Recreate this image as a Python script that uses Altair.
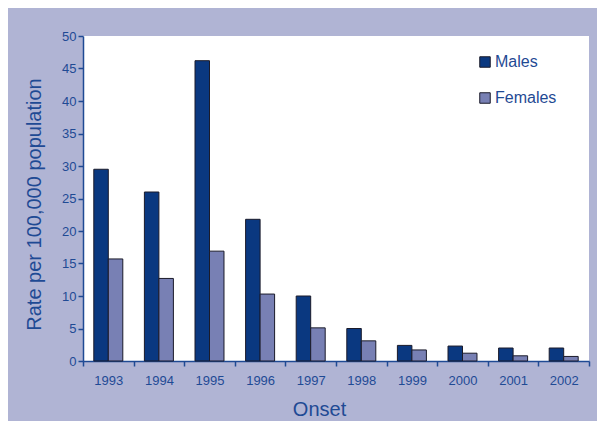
import altair as alt
import pandas as pd

years = ["1993", "1994", "1995", "1996", "1997", "1998", "1999", "2000", "2001", "2002"]
males = [29.5, 26.0, 46.2, 21.8, 10.0, 5.0, 2.4, 2.3, 2.0, 2.0]
females = [15.7, 12.7, 16.9, 10.3, 5.1, 3.1, 1.7, 1.2, 0.8, 0.7]
sexes = ["Males", "Females"]

rows = []
for i, y in enumerate(years):
    rows.append({"year": y, "sex": "Males", "rate": males[i]})
    rows.append({"year": y, "sex": "Females", "rate": females[i]})
df = pd.DataFrame(rows)

NAVY = "#1f4a94"
FONT = "Liberation Sans"

chart = alt.Chart(df).mark_bar(stroke="#1b1b2a", strokeWidth=1).encode(
    x=alt.X("year:N", sort=years, title="Onset",
            scale=alt.Scale(paddingInner=0, paddingOuter=0),
            axis=alt.Axis(tickBand="extent", labelAngle=0, labelPadding=8,
                          titlePadding=12, titleX=236)),
    xOffset=alt.XOffset("sex:N", sort=sexes,
                        scale=alt.Scale(paddingInner=0, paddingOuter=0.745)),
    y=alt.Y("rate:Q", title="Rate per 100,000 population",
            scale=alt.Scale(domain=[0, 50]),
            axis=alt.Axis(values=list(range(0, 51, 5)), titlePadding=17, titleY=168)),
    color=alt.Color("sex:N", sort=sexes,
                    scale=alt.Scale(domain=sexes, range=["#0a3880", "#7880b4"]),
                    legend=alt.Legend(title=None, orient="none", legendX=394, legendY=18,
                                      symbolType="square", symbolSize=110,
                                      symbolStrokeColor="#1b1b2a", symbolStrokeWidth=1,
                                      labelFontSize=16, labelColor=NAVY, labelFont=FONT,
                                      rowPadding=20, labelOffset=2)),
).properties(
    width=506, height=325,
    background="#b0b4d4",
    padding={"left": 75, "top": 28, "right": 8, "bottom": 60},
    autosize=alt.AutoSizeParams(type="none"),
).configure_view(
    fill="white", stroke=None
).configure_axis(
    grid=False, domainColor=NAVY, tickColor=NAVY, labelColor=NAVY, titleColor=NAVY,
    labelFont=FONT, titleFont=FONT, labelFontSize=13, titleFontSize=20,
    titleFontWeight="normal", tickSize=5, domainWidth=1.5, tickWidth=1.5
)

chart.save("out.html", embed_options={"renderer": "svg", "actions": False})
